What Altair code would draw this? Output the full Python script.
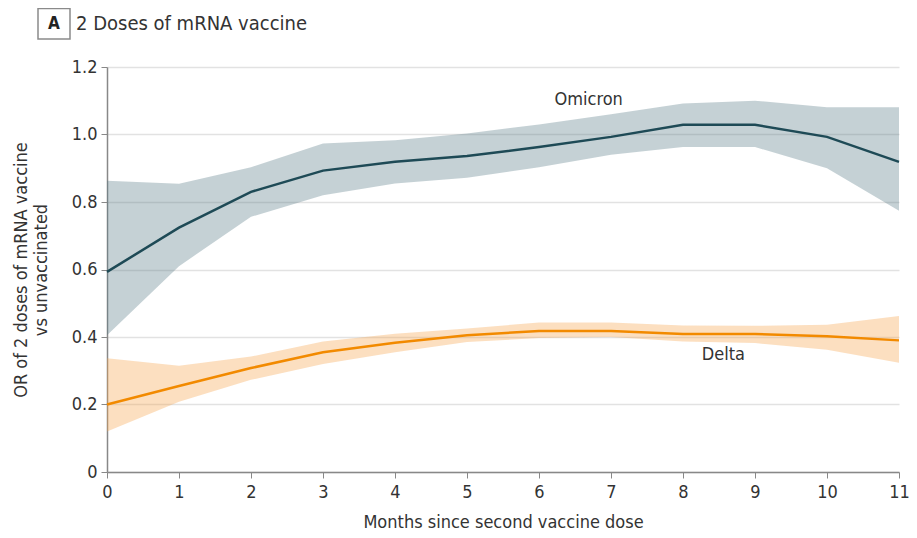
import altair as alt
import pandas as pd

months = list(range(12))
omicron_or = [0.593, 0.724, 0.83, 0.893, 0.919, 0.936, 0.963, 0.993, 1.029, 1.029, 0.993, 0.919]
omicron_lo = [0.405, 0.61, 0.756, 0.82, 0.855, 0.872, 0.903, 0.94, 0.963, 0.963, 0.90, 0.774]
omicron_hi = [0.863, 0.854, 0.903, 0.973, 0.983, 1.003, 1.03, 1.06, 1.092, 1.10, 1.081, 1.081]
delta_or = [0.20, 0.255, 0.308, 0.355, 0.383, 0.405, 0.418, 0.418, 0.409, 0.409, 0.402, 0.39]
delta_lo = [0.12, 0.208, 0.273, 0.32, 0.355, 0.385, 0.397, 0.40, 0.387, 0.382, 0.362, 0.324]
delta_hi = [0.337, 0.315, 0.342, 0.387, 0.41, 0.425, 0.443, 0.443, 0.434, 0.433, 0.436, 0.462]

label_names = ["Omicron", "Delta"]
label_x = [6.69, 8.56]
label_y = [1.102, 0.347]

y_ticks = [0, 0.2, 0.4, 0.6, 0.8, 1.0, 1.2]
x_ticks = months

FONT = "DejaVu Sans Condensed, sans-serif"
TXT = "#333333"

rows = []
for name, mid, lo, hi in [("Omicron", omicron_or, omicron_lo, omicron_hi),
                          ("Delta", delta_or, delta_lo, delta_hi)]:
    for m, a, b, c in zip(months, mid, lo, hi):
        rows.append({"month": m, "variant": name, "or": a, "lo": b, "hi": c})
df = pd.DataFrame(rows)
labels = pd.DataFrame({"name": label_names, "x": label_x, "y": label_y})

x = alt.X("month:Q", scale=alt.Scale(domain=[0, 11], nice=False, zero=False),
          axis=alt.Axis(values=x_ticks, title="Months since second vaccine dose",
                        grid=False, tickSize=6, labelPadding=5, titlePadding=12,
                        labelFlush=False, format="d"))
y_axis = alt.Axis(values=y_ticks,
                  title=["OR of 2 doses of mRNA vaccine", "vs unvaccinated"],
                  labelExpr="datum.value == 0 ? '0' : format(datum.value, '.1f')",
                  grid=True, tickSize=6, labelPadding=4, titlePadding=21,
                  labelFlush=False)
yscale = alt.Scale(domain=[0, 1.2], nice=False)

base = alt.Chart(df)
bands = base.mark_area(opacity=0.35).encode(
    x=x, y=alt.Y("lo:Q", scale=yscale, axis=y_axis), y2="hi:Q",
    color=alt.Color("variant:N", scale=alt.Scale(domain=["Omicron", "Delta"],
                                                 range=["#587a88", "#f7a24a"]), legend=None),
    detail="variant:N")
lines = base.mark_line(strokeWidth=2.5).encode(
    x="month:Q", y="or:Q",
    color=alt.Color("variant:N", scale=alt.Scale(domain=["Omicron", "Delta"],
                                                 range=["#1e4a56", "#f28a00"]), legend=None),
    detail="variant:N")
texts = alt.Chart(labels).mark_text(fontSize=18, font=FONT, color=TXT).encode(
    x="x:Q", y="y:Q", text="name:N")

head = pd.DataFrame({"k": [1]})
box = alt.Chart(head).mark_rect(fill="white", stroke="#8a8a8a", strokeWidth=1.5).encode(
    x=alt.value(-69), x2=alt.value(-37), y=alt.value(-58.5), y2=alt.value(-28))
boxA = alt.Chart(head).mark_text(text="A", fontSize=17, fontWeight="bold", font=FONT,
                                 color="#222222").encode(x=alt.value(-53), y=alt.value(-43))
title = alt.Chart(head).mark_text(text="2 Doses of mRNA vaccine", fontSize=20, font=FONT,
                                  color=TXT, align="left").encode(x=alt.value(-31), y=alt.value(-43))

chart = alt.layer(bands, lines, texts, box, boxA, title).resolve_scale(
    color="independent"
).properties(
    width=792, height=405,
    autosize=alt.AutoSizeParams(type="none"),
    padding={"left": 99, "top": 59, "right": 10, "bottom": 58}
).configure_view(stroke=None).configure_axis(
    labelFont=FONT, titleFont=FONT, labelFontSize=18, titleFontSize=18,
    labelColor=TXT, titleColor=TXT, titleFontWeight="normal",
    domainColor="#888888", tickColor="#888888", gridColor="#e2e2e2", domainWidth=1.5,
    gridWidth=1.5
)

chart.save("out.html", embed_options={"renderer": "svg", "actions": False})
